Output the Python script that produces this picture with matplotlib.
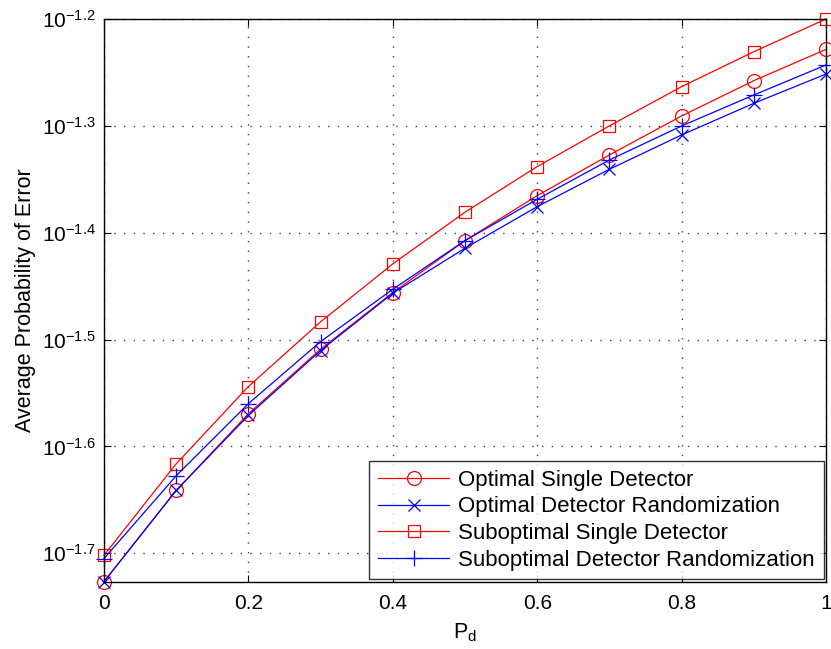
import numpy as np
import matplotlib
matplotlib.use("Agg")
import matplotlib.pyplot as plt
from matplotlib.ticker import FixedLocator, NullLocator

plt.rcParams['font.family'] = ['Liberation Sans', 'DejaVu Sans']
plt.rcParams['mathtext.fontset'] = 'custom'
plt.rcParams['mathtext.rm'] = 'Liberation Sans'
plt.rcParams['mathtext.it'] = 'Liberation Sans:italic'
plt.rcParams['mathtext.bf'] = 'Liberation Sans:bold'

# Data (log10 of average probability of error)
pd_vals = [0.0, 0.1, 0.2, 0.3, 0.4, 0.5, 0.6, 0.7, 0.8, 0.9, 1.0]
opt_single_log10 = [-1.7266, -1.6412, -1.5695, -1.5090, -1.4560, -1.4074, -1.3653, -1.3272, -1.2907, -1.2577, -1.2284]
opt_rand_log10 = [-1.7266, -1.6412, -1.5710, -1.5103, -1.4566, -1.4145, -1.3756, -1.3406, -1.3085, -1.2789, -1.2515]
subopt_single_log10 = [-1.7020, -1.6163, -1.5440, -1.4834, -1.4292, -1.3808, -1.3381, -1.3000, -1.2633, -1.2306, -1.2000]
subopt_rand_log10 = [-1.7050, -1.6275, -1.5600, -1.5019, -1.4529, -1.4074, -1.3687, -1.3319, -1.3001, -1.2711, -1.2430]

labels = ['Optimal Single Detector', 'Optimal Detector Randomization',
          'Suboptimal Single Detector', 'Suboptimal Detector Randomization']
ytick_exps = [-1.7, -1.6, -1.5, -1.4, -1.3, -1.2]
xticks = [0, 0.2, 0.4, 0.6, 0.8, 1]
xtick_labels = ['0', '0.2', '0.4', '0.6', '0.8', '1']

fig = plt.figure(figsize=(8.31, 6.49), dpi=100)
ax = fig.add_axes([0.1251, 0.1037, 0.994 - 0.1251, 0.9707 - 0.1037])

x = np.array(pd_vals)
series = [
    (opt_single_log10, 'red', 'o', 10),
    (opt_rand_log10, 'blue', 'x', 8),
    (subopt_single_log10, 'red', 's', 8.5),
    (subopt_rand_log10, 'blue', '+', 11),
]
for (vals, c, m, ms), lab in zip(series, labels):
    ax.plot(x, 10 ** np.array(vals), color=c, marker=m, markersize=ms,
            markerfacecolor='none', markeredgecolor=c, markeredgewidth=0.9,
            linewidth=0.9, label=lab, clip_on=False)

ax.set_yscale('log')
ax.set_xlim(0, 1)
ymin = 10 ** min(min(opt_single_log10), min(opt_rand_log10))
ax.set_ylim(ymin, 10 ** -1.2)

ax.yaxis.set_major_locator(FixedLocator([10 ** e for e in ytick_exps]))
ax.yaxis.set_minor_locator(NullLocator())
ax.set_yticklabels([r'$10^{%s}$' % ('\u22121.%d' % round(-(e + 1) * 10)) for e in ytick_exps])
ax.set_xticks(xticks)
ax.set_xticklabels(xtick_labels)

ax.grid(True, which='major', color='0.25', linestyle=(0, (1, 6)), linewidth=1.0)
ax.tick_params(direction='in', top=True, right=True, labelsize=15, length=5, width=0.8)
ax.tick_params(axis='x', pad=9)
ax.tick_params(axis='y', pad=6)
for s in ax.spines.values():
    s.set_linewidth(1.0)

ax.set_xlabel(r'P$_{\rm d}$', fontsize=15.5, labelpad=6)
ax.set_ylabel('Average Probability of Error', fontsize=15.5, labelpad=4)

leg = ax.legend(loc='lower right', bbox_to_anchor=(1.0, 0.0), borderaxespad=0.1,
                fontsize=16, frameon=True, fancybox=False, handlelength=3.2,
                labelspacing=0.25, borderpad=0.4, handletextpad=0.4)
leg.get_frame().set_edgecolor('black')
leg.get_frame().set_linewidth(1.0)

fig.savefig('out.png', dpi=100)
